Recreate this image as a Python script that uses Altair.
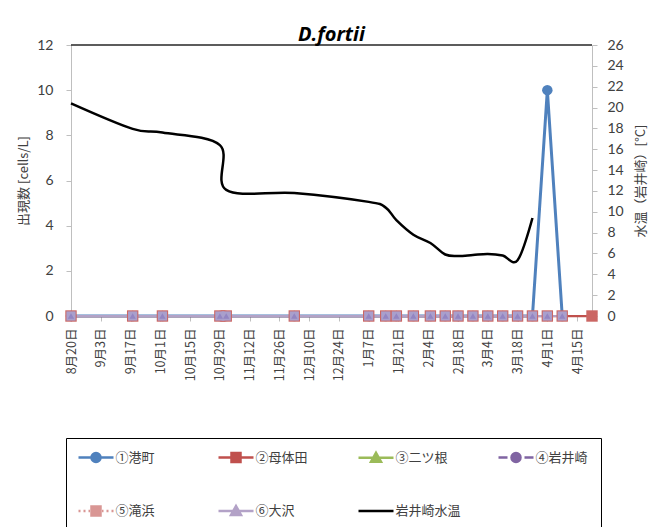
import altair as alt
import pandas as pd

# ---------------- data ----------------
sample_dates = ["2013-08-20", "2013-09-18", "2013-10-02", "2013-10-29", "2013-11-01",
                "2013-12-03", "2014-01-07", "2014-01-15", "2014-01-20", "2014-01-28",
                "2014-02-05", "2014-02-12", "2014-02-18", "2014-02-25", "2014-03-04",
                "2014-03-11", "2014-03-18", "2014-03-25", "2014-04-01", "2014-04-08"]
motaida_dates = ["2013-08-20", "2013-09-18", "2013-10-02", "2013-10-29", "2013-11-01",
                 "2013-12-03", "2014-01-07", "2014-01-15", "2014-01-20", "2014-01-28",
                 "2014-02-05", "2014-02-12", "2014-02-18", "2014-02-25", "2014-03-04",
                 "2014-03-11", "2014-03-18", "2014-03-25", "2014-04-01", "2014-04-08",
                 "2014-04-22"]

minato    = [0, 0, 0, 0, 0, 0, 0, 0, 0, 0, 0, 0, 0, 0, 0, 0, 0, 0, 10, 0]
motaida   = [0, 0, 0, 0, 0, 0, 0, 0, 0, 0, 0, 0, 0, 0, 0, 0, 0, 0, 0, 0, 0]
futatsune = [0, 0, 0, 0, 0, 0, 0, 0, 0, 0, 0, 0, 0, 0, 0, 0, 0, 0, 0, 0]
iwaisaki  = [0, 0, 0, 0, 0, 0, 0, 0, 0, 0, 0, 0, 0, 0, 0, 0, 0, 0, 0, 0]
takihama  = [0, 0, 0, 0, 0, 0, 0, 0, 0, 0, 0, 0, 0, 0, 0, 0, 0, 0, 0, 0]
osawa     = [0, 0, 0, 0, 0, 0, 0, 0, 0, 0, 0, 0, 0, 0, 0, 0, 0, 0, 0, 0]

temp_dates = ["2013-08-20", "2013-09-18", "2013-10-02", "2013-10-29", "2013-11-01",
              "2013-12-03", "2014-01-07", "2014-01-15", "2014-01-20", "2014-01-28",
              "2014-02-05", "2014-02-12", "2014-02-18", "2014-02-25", "2014-03-04",
              "2014-03-11", "2014-03-18", "2014-03-25"]
temp_vals = [20.4, 17.95, 17.6, 16.4, 12.1, 11.8, 10.95, 10.4, 9.2, 7.8,
             7.0, 5.9, 5.75, 5.85, 5.95, 5.8, 5.35, 9.4]

series_names = ["①港町", "②母体田", "③二ツ根", "④岩井崎", "⑤滝浜", "⑥大沢"]
temp_name = "岩井崎水温"

tick_dates = ["2013-08-20", "2013-09-03", "2013-09-17", "2013-10-01", "2013-10-15",
              "2013-10-29", "2013-11-12", "2013-11-26", "2013-12-10", "2013-12-24",
              "2014-01-07", "2014-01-21", "2014-02-04", "2014-02-18", "2014-03-04",
              "2014-03-18", "2014-04-01", "2014-04-15"]
x_domain = ["2013-08-20", "2014-04-22"]
left_ticks = [0, 2, 4, 6, 8, 10, 12]
right_ticks = [0, 2, 4, 6, 8, 10, 12, 14, 16, 18, 20, 22, 24, 26]

title_text = "D.fortii"
left_title = "出現数 [cells/L]"
right_title = "水温（岩井崎）[°C]"

# ---------------- styles ----------------
W, H = 521, 271
CJK = "Noto Sans CJK JP"
NUM = "Lato"
TXT = "#404040"
AX = "#BFBFBF"


def dt(s):
    y, m, d = (int(v) for v in s.split("-"))
    return alt.DateTime(year=y, month=m, date=d, utc=True)


x_enc = alt.X(
    "date:T",
    scale=alt.Scale(type="utc", domain=[dt(x_domain[0]), dt(x_domain[1])]),
    axis=alt.Axis(values=[dt(s) for s in tick_dates], format="%-m月%-d日",
                  labelAngle=270, labelFont=CJK, labelFontSize=12.5, labelColor=TXT,
                  labelOverlap=False, labelPadding=7, tickSize=5, tickColor=AX,
                  domainColor=AX, grid=False, title=None),
)

y_count = alt.Y(
    "count:Q",
    scale=alt.Scale(domain=[0, 12], nice=False, zero=True),
    axis=alt.Axis(values=left_ticks, title=left_title, titleFont=CJK, titleFontSize=13,
                  titleFontWeight="normal", titleColor=TXT, titlePadding=6,
                  labelFont=NUM, labelFontSize=14, labelColor=TXT, labelPadding=13,
                  tickSize=5, tickColor=AX, domainColor=AX, grid=False),
)

y_temp = alt.Y(
    "temp:Q",
    scale=alt.Scale(domain=[0, 26], nice=False, zero=True),
    axis=alt.Axis(orient="right", values=right_ticks, title=right_title, titleAngle=270,
                  titleBaseline="top", titleFont=CJK, titleFontSize=13,
                  titleFontWeight="normal", titleColor=TXT, titlePadding=11,
                  labelFont=NUM, labelFontSize=14, labelColor=TXT, labelPadding=10,
                  tickSize=5, tickColor=AX, domainColor=AX, grid=False),
)

series_dates = [sample_dates, motaida_dates, sample_dates, sample_dates, sample_dates, sample_dates]
series_vals = [minato, motaida, futatsune, iwaisaki, takihama, osawa]

line_colors = ["#4F81BD", "#C0504D", "#9BBB59", "#8064A2", "#D99694", "#B3A2C7"]
line_widths = [3, 2.25, 2, 2, 2, 2]
line_dashes = [[1, 0], [1, 0], [1, 0], [6, 4], [2, 3], [1, 0]]
pt_shapes = ["circle", "square", "triangle-up", "circle", "square", "triangle-up"]
pt_sizes = [110, 130, 45, 50, 85, 40]
pt_fills = ["#4F81BD", "#CB6663", "#9BBB59", "#8064A2", "#A99FCC", "#9385C2"]

lines, points = [], []
for i in range(len(series_names)):
    df = pd.DataFrame({"date": series_dates[i], "count": series_vals[i]})
    base = alt.Chart(df).encode(x=x_enc, y=y_count)
    lines.append(base.mark_line(color=line_colors[i], strokeWidth=line_widths[i],
                                strokeDash=line_dashes[i]))
    points.append(base.mark_point(shape=pt_shapes[i], size=pt_sizes[i], filled=True,
                                  fill=pt_fills[i], strokeWidth=0, opacity=1))

# top border of the plot area
top_rule = alt.Chart(pd.DataFrame({"k": [0]})).mark_rule(color="#262626", strokeWidth=1.5).encode(
    x=alt.value(0), x2=alt.value(W), y=alt.value(0))

# legend (line + marker glyphs drawn by the legend itself)
legend_names = series_names + [temp_name]
legend_colors = ["#4F81BD", "#C0504D", "#9BBB59", "#8064A2", "#D99694", "#B3A2C7", "#000000"]
LN = "M-1.3,0H5.7"
LN_DASH = "M-1.3,0H0.5M3.9,0H5.7"
LN_DOT = "M-1.3,0H-0.9M-0.3,0H0.1M0.7,0H1.0M3.4,0H3.7M4.3,0H4.7M5.3,0H5.7"
CIRC = "M1.3,0A0.9,0.9,0,1,0,3.1,0A0.9,0.9,0,1,0,1.3,0Z"
SQ = "M1.3,-0.9H3.1V0.9H1.3Z"
TRI = "M2.2,-1L3.2,0.8L1.2,0.8Z"
legend_paths = [LN + CIRC, LN + SQ, LN + TRI, LN_DASH + CIRC, LN_DOT + SQ, LN + TRI, LN]

leg = alt.Legend(title=None, orient="none", legendX=-5, legendY=393, columns=4,
                 direction="horizontal", gridAlign="all", columnPadding=32, rowPadding=33,
                 padding=12.5, strokeColor="#000000", fillColor="#FFFFFF", symbolSize=100,
                 symbolStrokeWidth=2.5, labelFont=CJK, labelFontSize=13, labelColor=TXT,
                 labelOffset=24, labelLimit=300)

legend_layer = alt.Chart(pd.DataFrame({"series": legend_names})).mark_point(
    filled=True, opacity=1, strokeWidth=2.5).encode(
    fill=alt.Fill("series:N", scale=alt.Scale(domain=legend_names, range=legend_colors), legend=leg),
    stroke=alt.Stroke("series:N", scale=alt.Scale(domain=legend_names, range=legend_colors), legend=leg),
    shape=alt.Shape("series:N", scale=alt.Scale(domain=legend_names, range=legend_paths), legend=leg),
).transform_filter("false")

counts = alt.layer(*lines, *points, top_rule, legend_layer)

temp_df = pd.DataFrame({"date": temp_dates, "temp": temp_vals})
temp_layer = alt.Chart(temp_df).mark_line(color="#000000", strokeWidth=2.5,
                                          interpolate="cardinal").encode(x=x_enc, y=y_temp)

chart = alt.layer(counts, temp_layer).resolve_scale(y="independent").properties(
    width=W, height=H,
    title=alt.TitleParams(title_text, font="Open Sans", fontSize=20, fontStyle="italic",
                          fontWeight="bold", color="#000000", anchor="middle", offset=-7),
    padding={"left": 9, "top": 17, "right": 5, "bottom": 5},
    background="#FFFFFF",
).configure_view(stroke=None)

chart.save("out.html", embed_options={"renderer": "svg", "actions": False})
